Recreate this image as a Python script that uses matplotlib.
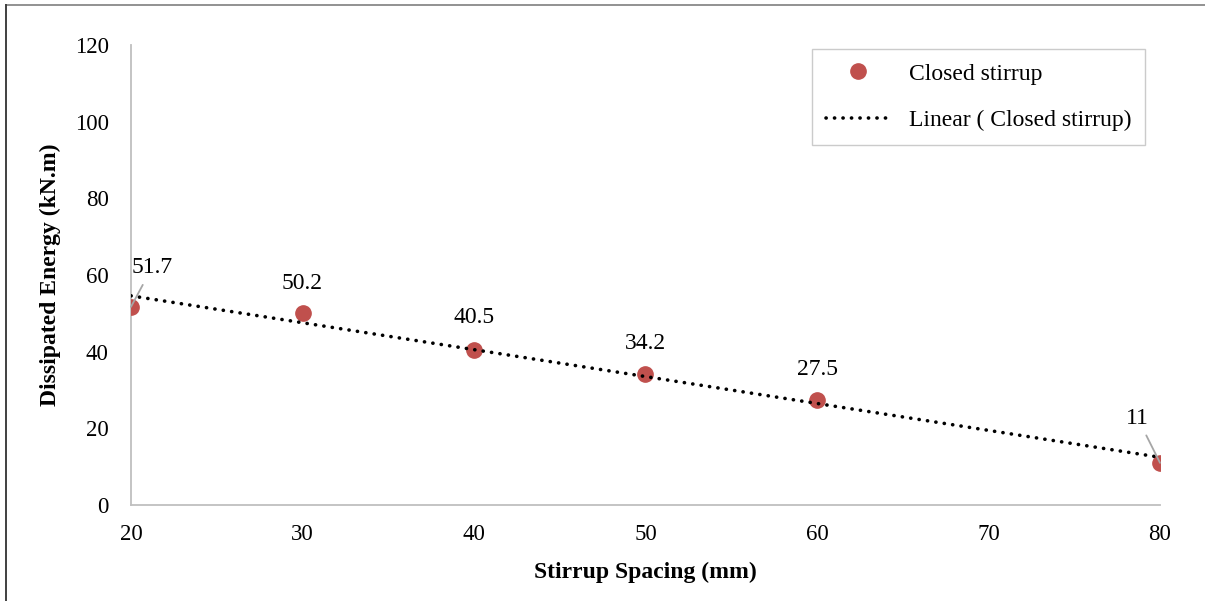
import numpy as np
import matplotlib
matplotlib.use("Agg")
import matplotlib.pyplot as plt
from matplotlib.lines import Line2D

plt.rcParams["font.family"] = ["Liberation Serif", "DejaVu Serif"]

spacing = [20, 30, 40, 50, 60, 80]
energy = [51.7, 50.2, 40.5, 34.2, 27.5, 11]
value_labels = ["51.7", "50.2", "40.5", "34.2", "27.5", "11"]
x_ticks = [20, 30, 40, 50, 60, 70, 80]
y_ticks = [0, 20, 40, 60, 80, 100, 120]

red = "#C0504D"
grey = "#BFBFBF"

fig = plt.figure(figsize=(12.05, 6.01), dpi=100)
ax = fig.add_axes([131 / 1205, 1 - 505 / 601, (1160 - 131) / 1205, (505 - 45) / 601])

# outer frame lines (top and left)
fig.add_artist(Line2D([6 / 1205, 1], [1 - 5 / 601, 1 - 5 / 601], color="#7F7F7F", lw=1.2,
                      transform=fig.transFigure))
fig.add_artist(Line2D([6 / 1205, 6 / 1205], [0, 1 - 5 / 601], color="#404040", lw=1.4,
                      transform=fig.transFigure))

ax.plot(spacing, energy, "o", color=red, markersize=11, zorder=3, label="Closed stirrup")

slope, intercept = np.polyfit(spacing, energy, 1)
xs = np.array([spacing[0], spacing[-1]])
ax.plot(xs, slope * xs + intercept, color="black", lw=2.6, linestyle=(0, (0.05, 2.3)),
        dash_capstyle="round", zorder=4, label="Linear ( Closed stirrup)")

ax.set_xlim(20, 80)
ax.set_ylim(0, 120)
ax.set_xticks(x_ticks)
ax.set_yticks(y_ticks)
ax.tick_params(length=0, labelsize=16.5, colors="black")
ax.tick_params(axis="x", pad=14)
ax.tick_params(axis="y", pad=16)
for s in ["top", "right"]:
    ax.spines[s].set_visible(False)
for s in ["left", "bottom"]:
    ax.spines[s].set_color(grey)
    ax.spines[s].set_linewidth(1.3)

ax.set_xlabel("Stirrup Spacing (mm)", fontsize=17, fontweight="bold", labelpad=12)
ax.set_ylabel("Dissipated Energy (kN.m)", fontsize=17, fontweight="bold", labelpad=10)

# data labels (offsets in points from each marker centre)
offsets = [(15, 28), (0, 21), (0, 23), (0, 22), (0, 22), (-16, 32)]
leaders = [True, False, False, False, False, True]
for x, y, txt, off, lead in zip(spacing, energy, value_labels, offsets, leaders):
    ax.annotate(txt, (x, y), xytext=off, textcoords="offset points", ha="center",
                va="center", fontsize=17, zorder=5,
                arrowprops=dict(arrowstyle="-", color="#A6A6A6", lw=1.3,
                                shrinkA=3, shrinkB=0) if lead else None)

leg = ax.legend(loc="upper left", bbox_to_anchor=(812 / 1205, 1 - 49 / 601),
                bbox_transform=fig.transFigure, fontsize=17, frameon=True,
                fancybox=False, edgecolor=grey, borderpad=0.6, labelspacing=1.05,
                borderaxespad=0, handlelength=2.7, handletextpad=0.8, markerscale=1.0)
leg.get_frame().set_linewidth(1.0)

fig.savefig("out.png", dpi=100)
